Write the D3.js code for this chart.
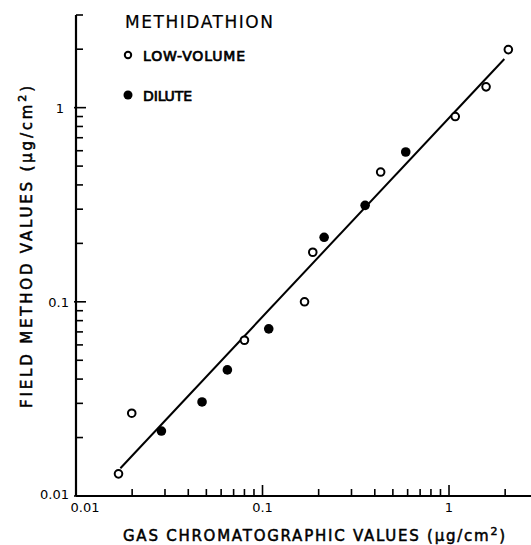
<!DOCTYPE html>
<html>
<head>
<meta charset="utf-8">
<script src="https://cdn.jsdelivr.net/npm/d3@7"></script>
<style>
  body { margin: 0; background: #fff; }
  svg { display: block; font-family: "DejaVu Sans", sans-serif; }
  .title { font-size: 15px; fill: #000; stroke: #000; stroke-width: 0.5; }
  .legend { font-size: 14px; fill: #000; stroke: #000; stroke-width: 0.7; }
</style>
</head>
<body>
<div id="chart"></div>
<script>
// Log-log plot: field method vs gas chromatographic values (ug/cm2)
const lowVolumeX = [0.0169, 0.0199, 0.080, 0.168, 0.186, 0.43, 1.08, 1.58, 2.08];
const lowVolumeY = [0.0130, 0.0267, 0.0634, 0.100, 0.180, 0.466, 0.90, 1.28, 1.99];
const diluteX = [0.0287, 0.0474, 0.0648, 0.108, 0.214, 0.355, 0.586];
const diluteY = [0.0216, 0.0305, 0.0446, 0.0726, 0.215, 0.314, 0.591];
const fitX = [0.0173, 1.98];
const fitY = [0.0139, 1.78];
const majorTicks = [0.01, 0.1, 1];
const tickLabels = ["0.01", "0.1", "1"];

const W = 531, H = 545;

const svg = d3.select("#chart").append("svg")
  .attr("width", W).attr("height", H);

// decades are not quite square in the original: x ~186px, y ~194px
const x = d3.scaleLog().domain([0.01, 3]).range([76, 538]);
const y = d3.scaleLog().domain([0.01, 3]).range([496, 15]);

// minor tick values (2..9 in each decade) inside the domain
const minor = [];
[0.01, 0.1, 1].forEach(d => { for (let k = 2; k <= 9; k++) if (d * k <= 3.0001) minor.push(d * k); });

// axis lines
svg.append("line")
  .attr("x1", x(0.01)).attr("x2", W).attr("y1", y(0.01)).attr("y2", y(0.01))
  .attr("stroke", "#000").attr("stroke-width", 2.2);
svg.append("line")
  .attr("x1", x(0.01)).attr("x2", x(0.01)).attr("y1", y(3)).attr("y2", y(0.01))
  .attr("stroke", "#000").attr("stroke-width", 2.2);

// ticks point inward
const tk = svg.append("g").attr("stroke", "#000").attr("stroke-width", 1.6);
tk.selectAll(".xmaj").data(majorTicks).join("line")
  .attr("x1", d => x(d)).attr("x2", d => x(d))
  .attr("y1", y(0.01)).attr("y2", y(0.01) - 11);
tk.selectAll(".xmin").data(minor).join("line")
  .attr("x1", d => x(d)).attr("x2", d => x(d))
  .attr("y1", y(0.01)).attr("y2", y(0.01) - 7);
tk.selectAll(".ymaj").data(majorTicks).join("line")
  .attr("y1", d => y(d)).attr("y2", d => y(d))
  .attr("x1", x(0.01) - 2).attr("x2", x(0.01) + 10);
tk.selectAll(".ymin").data(minor).join("line")
  .attr("y1", d => y(d)).attr("y2", d => y(d))
  .attr("x1", x(0.01)).attr("x2", x(0.01) + 7);

// tick labels
svg.selectAll(".xlab").data(majorTicks).join("text")
  .attr("x", (d, i) => x(d) + (i === 0 ? 9 : 0))
  .attr("y", y(0.01) + 16)
  .attr("text-anchor", "middle")
  .attr("font-size", 13)
  .text((d, i) => tickLabels[i]);
svg.selectAll(".ylab").data(majorTicks).join("text")
  .attr("x", (d, i) => x(0.01) - (i === 2 ? 12 : 7))
  .attr("y", (d, i) => y(d) + (i === 0 ? 3 : 5))
  .attr("text-anchor", "end")
  .attr("font-size", 13)
  .text((d, i) => tickLabels[i]);

// fitted line
svg.append("line")
  .attr("x1", x(fitX[0])).attr("y1", y(fitY[0]))
  .attr("x2", x(fitX[1])).attr("y2", y(fitY[1]))
  .attr("stroke", "#000").attr("stroke-width", 2);

// points
svg.selectAll(".low").data(lowVolumeX).join("circle")
  .attr("cx", d => x(d)).attr("cy", (d, i) => y(lowVolumeY[i]))
  .attr("r", 3.8).attr("fill", "#fff").attr("stroke", "#000").attr("stroke-width", 2);
svg.selectAll(".dil").data(diluteX).join("circle")
  .attr("cx", d => x(d)).attr("cy", (d, i) => y(diluteY[i]))
  .attr("r", 4.8).attr("fill", "#000");

// legend
svg.append("text").attr("class", "title")
  .attr("x", 125).attr("y", 28).style("font-size", "17px").style("stroke-width", 0.2)
  .attr("textLength", 148).attr("lengthAdjust", "spacing")
  .text("METHIDATHION");
svg.append("circle").attr("cx", 128).attr("cy", 55).attr("r", 3.2)
  .attr("fill", "#fff").attr("stroke", "#000").attr("stroke-width", 2);
svg.append("text").attr("class", "legend").attr("x", 143).attr("y", 61)
  .attr("textLength", 102).attr("lengthAdjust", "spacing")
  .text("LOW-VOLUME");
svg.append("circle").attr("cx", 128).attr("cy", 95).attr("r", 4.5).attr("fill", "#000");
svg.append("text").attr("class", "legend").attr("x", 143).attr("y", 101)
  .attr("textLength", 49).attr("lengthAdjust", "spacing")
  .text("DILUTE");

// axis titles
const xt = svg.append("text").attr("class", "title")
  .attr("x", 123).attr("y", 541)
  .attr("textLength", 382).attr("lengthAdjust", "spacing");
xt.append("tspan").text("GAS CHROMATOGRAPHIC VALUES (\u03bcg/cm");
xt.append("tspan").attr("dy", -6).attr("font-size", 11).text("2");
xt.append("tspan").attr("dy", 6).text(")");

const yt = svg.append("text").attr("class", "title")
  .attr("transform", "translate(32,408) rotate(-90)")
  .attr("x", 0).attr("y", 0)
  .attr("textLength", 322).attr("lengthAdjust", "spacing");
yt.append("tspan").text("FIELD METHOD VALUES (\u03bcg/cm");
yt.append("tspan").attr("dy", -6).attr("font-size", 11).text("2");
yt.append("tspan").attr("dy", 6).text(")");
</script>
</body>
</html>
